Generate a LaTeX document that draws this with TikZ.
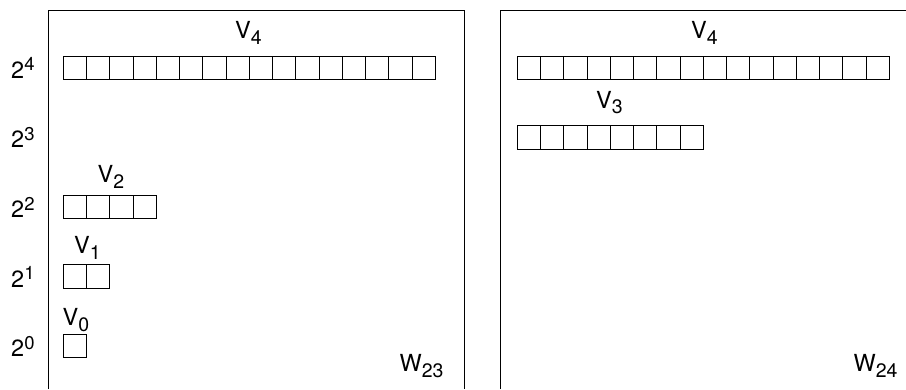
\documentclass[tikz,border=0pt]{standalone}
\usepackage{fontspec}
\setmainfont{TeX Gyre Heros}
\newcommand\bigtxt{\fontsize{23.5}{27}\selectfont}
\newcommand\Vsub[2]{{\bigtxt #1\raisebox{-5.5pt}{\fontsize{19.5}{22}\selectfont #2}}}
\newcommand\Pow[1]{{\bigtxt 2\raisebox{7.5pt}{\fontsize{18.5}{22}\selectfont #1}}}
\begin{document}
\begin{tikzpicture}[x=1pt,y=-1pt,
  cell/.style={draw, line width=0.8pt},
  frame/.style={draw, line width=0.9pt},
  lab/.style={anchor=base west, inner sep=0pt}]
\useasboundingbox (0,0) rectangle (906,389);
% panels
\draw[frame] (48,389) -- (48,10) -- (464,10) -- (464,389);
\draw[frame] (500,389) -- (500,10) -- (906,10);
% left panel rows
\foreach \i in {0,...,15} \draw[cell] (63.3+23.25*\i,56) rectangle ++(23.25,23.3);
\foreach \i in {0,...,3} \draw[cell] (63.3+23.25*\i,195.2) rectangle ++(23.25,23.3);
\foreach \i in {0,...,1} \draw[cell] (63.3+23.25*\i,264.8) rectangle ++(23.25,23.3);
\draw[cell] (63.3,334.4) rectangle ++(23.25,23.3);
% right panel rows
\foreach \i in {0,...,15} \draw[cell] (517.3+23.25*\i,56) rectangle ++(23.25,23.3);
\foreach \i in {0,...,7} \draw[cell] (517.3+23.25*\i,125.6) rectangle ++(23.25,23.3);
% level labels
\node[lab] (p4) at (11,78.3) {\Pow{4}};
\node[lab] (p3) at (11,147.9) {\Pow{3}};
\node[lab] (p2) at (11,217.5) {\Pow{2}};
\node[lab] (p1) at (11,287.1) {\Pow{1}};
\node[lab] (p0) at (11,356.7) {\Pow{0}};
% space labels
\node[lab] (lv4) at (235,38.8) {\Vsub{V}{4}};
\node[lab] (lv2) at (97.5,182.7) {\Vsub{V}{2}};
\node[lab] (lv1) at (74,253.5) {\Vsub{V}{1}};
\node[lab] (lv0) at (62.5,325.5) {\Vsub{V}{0}};
\node[lab] (rv4) at (691,38.8) {\Vsub{V}{4}};
\node[lab] (rv3) at (596,108.3) {\Vsub{V}{3}};
\node[lab] (w23) at (399.5,371.7) {\Vsub{W}{23}};
\node[lab] (w24) at (853.5,371.7) {\Vsub{W}{24}};
\end{tikzpicture}
\end{document}
